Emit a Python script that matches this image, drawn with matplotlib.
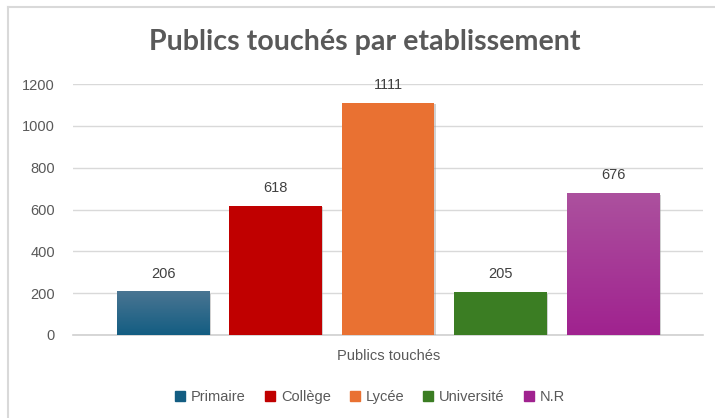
import matplotlib.pyplot as plt
import matplotlib.patheffects as pe
import numpy as np
from matplotlib.colors import LinearSegmentedColormap, to_rgb

categories = ["Primaire", "Collège", "Lycée", "Université", "N.R"]
values = [206, 618, 1111, 205, 676]
colors = ["#135d82", "#c00000", "#e97132", "#3b7d23", "#a0228f"]
# top colour for the bars that have a gradient fill (None = plain fill)
top_colors = ["#4a7592", None, None, None, "#ac519e"]
yticks = [0, 200, 400, 600, 800, 1000, 1200]

grey = "#595959"

fig = plt.figure(figsize=(7.15, 4.18), dpi=100)
ax = fig.add_axes([73 / 715, 83 / 418, 630 / 715, 251 / 418])

x = np.arange(len(categories))
bars = ax.bar(x, values, width=0.82, color=colors, zorder=3)

shadow = [pe.SimplePatchShadow(offset=(1.2, -1.2), shadow_rgbFace="#9a9a9a", alpha=0.45),
          pe.Normal()]
for b, top, c in zip(bars, top_colors, colors):
    b.set_path_effects(shadow)
    if top is not None:
        cmap = LinearSegmentedColormap.from_list("g", [to_rgb(c), to_rgb(top)])
        grad = np.linspace(0, 1, 256).reshape(-1, 1)
        x0, w, h = b.get_x(), b.get_width(), b.get_height()
        ax.imshow(grad, cmap=cmap, origin="lower", aspect="auto",
                  extent=(x0, x0 + w, 0, h), zorder=4)

for b, v in zip(bars, values):
    ax.annotate(str(v), (b.get_x() + b.get_width() / 2, v),
                xytext=(0, 8), textcoords="offset points",
                ha="center", va="bottom", fontsize=10.5,
                color="#404040", family="Liberation Sans", zorder=5)

ax.set_xlim(-0.8, 4.8)
ax.set_ylim(0, 1200)
ax.set_yticks(yticks)
ax.set_yticklabels([str(t) for t in yticks], family="Liberation Sans",
                   fontsize=10.5, color=grey)
ax.set_xticks([])
ax.tick_params(axis="y", length=0, pad=13)
ax.grid(axis="y", color="#d9d9d9", linewidth=1, zorder=0)
for s in ["top", "right", "left"]:
    ax.spines[s].set_visible(False)
ax.spines["bottom"].set_color("#d0d0d0")
ax.spines["bottom"].set_linewidth(1.2)

fig.text(365 / 715, 1 - 42 / 418, "Publics touchés par etablissement",
         family=["Lato", "DejaVu Sans"], fontweight="bold",
         fontsize=20.6, color=grey, ha="center", va="center")
fig.text(389 / 715, 1 - 356 / 418, "Publics touchés", family="Liberation Sans",
         fontsize=10.5, color=grey, ha="center", va="center")

handles = [plt.Rectangle((0, 0), 1, 1, color=c) for c in colors]
fig.legend(handles, categories, loc="center", bbox_to_anchor=(370 / 715, 1 - 397 / 418),
           ncol=5, frameon=False, handlelength=0.7, handleheight=0.7,
           handletextpad=0.4, columnspacing=1.3,
           prop={"family": "Liberation Sans", "size": 10.5}, labelcolor=grey)

# chart frame (top and left edges visible)
fig.add_artist(plt.Line2D([8 / 715, 1], [1 - 7 / 418, 1 - 7 / 418],
                          color="#d9d9d9", linewidth=1.5, transform=fig.transFigure))
fig.add_artist(plt.Line2D([8 / 715, 8 / 715], [0, 1 - 7 / 418],
                          color="#d9d9d9", linewidth=1.5, transform=fig.transFigure))

fig.savefig("out.png", dpi=100)
